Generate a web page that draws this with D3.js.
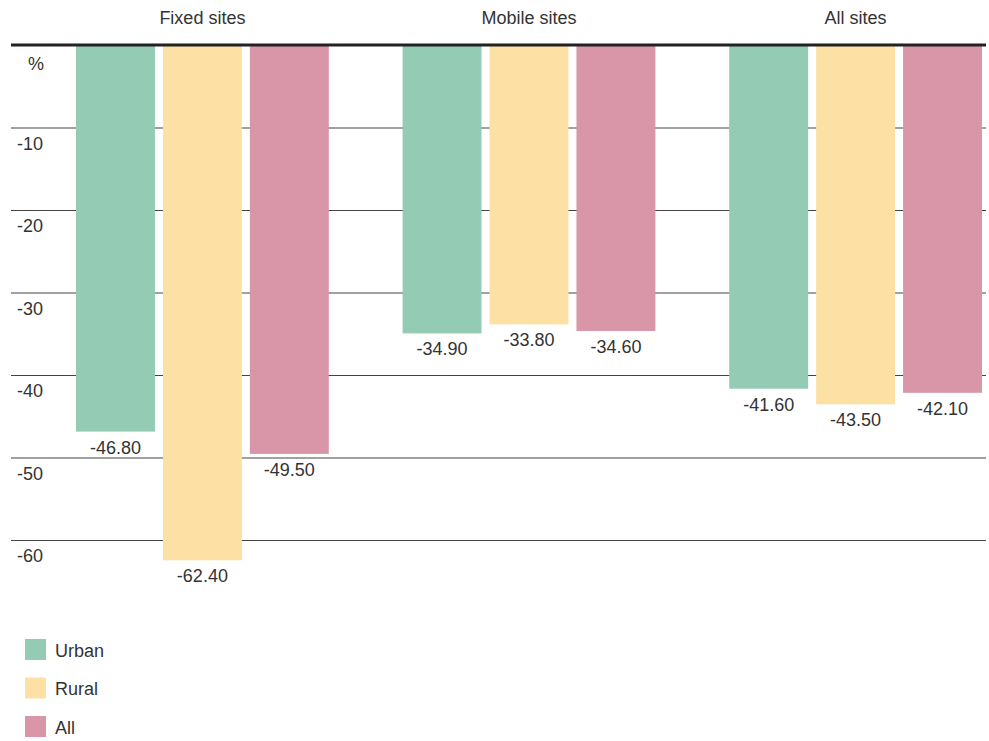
<!DOCTYPE html>
<html>
<head>
<meta charset="utf-8">
<script src="https://cdn.jsdelivr.net/npm/d3@7"></script>
<style>
  html, body { margin: 0; padding: 0; background: #fff; }
  svg { display: block; font-family: "Liberation Sans", Arial, sans-serif; }
</style>
</head>
<body>
<svg id="chart" width="989" height="741"></svg>
<script>
// Percentage change by site type and area
const groups = ["Fixed sites", "Mobile sites", "All sites"];
const series = ["Urban", "Rural", "All"];
const urban = [-46.8, -34.9, -41.6];
const rural = [-62.4, -33.8, -43.5];
const all = [-49.5, -34.6, -42.1];
const tickValues = [0, -10, -20, -30, -40, -50, -60];
const tickLabels = ["%", "-10", "-20", "-30", "-40", "-50", "-60"];
const colors = ["#93cbb5", "#fde0a3", "#d996a8"];

const values = [urban, rural, all];
const rows = groups.map((g, gi) => ({
  group: g,
  bars: series.map((s, si) => ({ series: s, value: values[si][gi] }))
}));

const svg = d3.select("#chart");
const textColor = "#333";
const fontSize = 18;

const y = d3.scaleLinear().domain([0, -60]).range([45.5, 540.5]);
const x0 = d3.scaleBand().domain(groups).range([76, 982]).paddingInner(0.226).paddingOuter(0);
const x1 = d3.scaleBand().domain(series).range([0, x0.bandwidth()]).paddingInner(0.092).paddingOuter(0);
const color = d3.scaleOrdinal().domain(series).range(colors);

// Horizontal gridlines
svg.append("g")
  .selectAll("line")
  .data(tickValues.filter(v => v !== 0))
  .join("line")
  .attr("x1", 11).attr("x2", 986)
  .attr("y1", d => y(d)).attr("y2", d => y(d))
  .attr("stroke", "#444")
  .attr("stroke-width", 1.2);

// Tick labels sit just below each line
svg.append("g")
  .selectAll("text")
  .data(tickValues)
  .join("text")
  .attr("x", d => d === 0 ? 28 : 17)
  .attr("y", d => y(d) + (d === 0 ? 24.5 : 21.5))
  .attr("font-size", fontSize)
  .attr("fill", textColor)
  .text((d, i) => tickLabels[i]);

// Bars
const g = svg.append("g")
  .selectAll("g")
  .data(rows)
  .join("g")
  .attr("transform", d => `translate(${x0(d.group)},0)`);

g.selectAll("rect")
  .data(d => d.bars)
  .join("rect")
  .attr("x", d => x1(d.series))
  .attr("width", x1.bandwidth())
  .attr("y", y(0))
  .attr("height", d => y(d.value) - y(0))
  .attr("fill", d => color(d.series));

// Value labels under each bar
g.selectAll("text.value")
  .data(d => d.bars)
  .join("text")
  .attr("class", "value")
  .attr("x", d => x1(d.series) + x1.bandwidth() / 2)
  .attr("y", d => y(d.value) + 22)
  .attr("text-anchor", "middle")
  .attr("font-size", fontSize)
  .attr("fill", textColor)
  .text(d => d.value.toFixed(2));

// Group titles
svg.append("g")
  .selectAll("text")
  .data(groups)
  .join("text")
  .attr("x", d => x0(d) + x0.bandwidth() / 2)
  .attr("y", 24)
  .attr("text-anchor", "middle")
  .attr("font-size", fontSize)
  .attr("fill", textColor)
  .text(d => d);

// Zero baseline
svg.append("line")
  .attr("x1", 11).attr("x2", 986)
  .attr("y1", y(0) - 0.5).attr("y2", y(0) - 0.5)
  .attr("stroke", "#222")
  .attr("stroke-width", 3);

// Legend
const legend = svg.append("g")
  .selectAll("g")
  .data(series)
  .join("g")
  .attr("transform", (d, i) => `translate(25,${639 + i * 38.5})`);

legend.append("rect")
  .attr("width", 21).attr("height", 21)
  .attr("fill", d => color(d));

legend.append("text")
  .attr("x", 30)
  .attr("y", 17.5)
  .attr("font-size", fontSize)
  .attr("fill", textColor)
  .text(d => d);
</script>
</body>
</html>
